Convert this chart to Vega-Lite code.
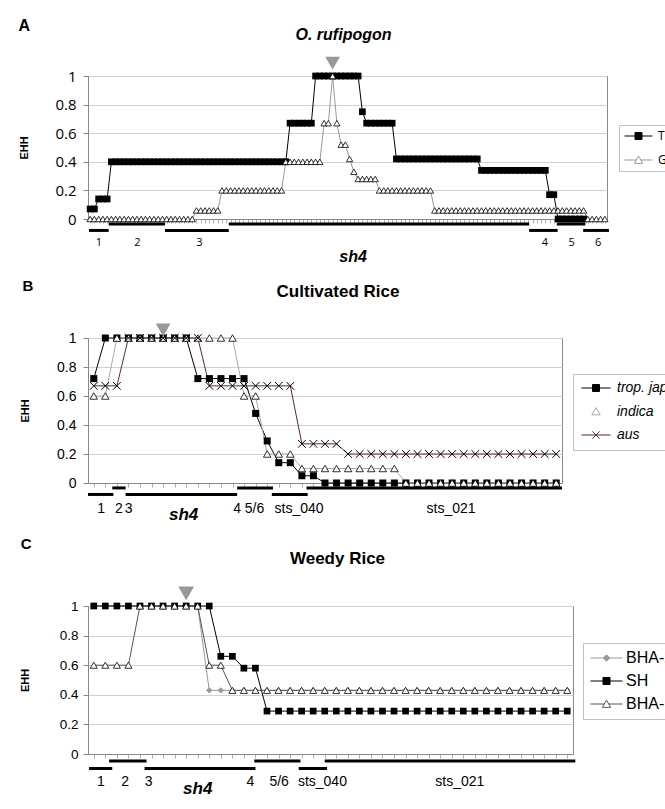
{
"$schema": "https://vega.github.io/schema/vega-lite/v6.json",
"background": "white",
"padding": {"left": 18, "top": 18, "right": 0, "bottom": 0},
"spacing": 13,
"columns": 1,
"resolve": {"scale": {"stroke": "independent"}, "legend": {"stroke": "independent"}},
"config": {
  "font": "Liberation Sans",
  "view": {"stroke": "#888888", "strokeWidth": 1},
  "axis": {"domainColor": "#888888", "tickColor": "#888888", "gridColor": "#d0d0d0", "labelColor": "#000000", "titleColor": "#000000", "labelOverlap": false},
  "title": {"color": "#000000", "font": "Liberation Sans"}
},
"datasets": {
  "A": [
    {"pos":1,"T":0.07,"G":0},{"pos":2,"T":0.07,"G":0},{"pos":3,"T":0.14,"G":0},{"pos":4,"T":0.14,"G":0},{"pos":5,"T":0.14,"G":0},
    {"pos":6,"T":0.4,"G":0},{"pos":7,"T":0.4,"G":0},{"pos":8,"T":0.4,"G":0},{"pos":9,"T":0.4,"G":0},{"pos":10,"T":0.4,"G":0},
    {"pos":11,"T":0.4,"G":0},{"pos":12,"T":0.4,"G":0},{"pos":13,"T":0.4,"G":0},{"pos":14,"T":0.4,"G":0},{"pos":15,"T":0.4,"G":0},
    {"pos":16,"T":0.4,"G":0},{"pos":17,"T":0.4,"G":0},{"pos":18,"T":0.4,"G":0},{"pos":19,"T":0.4,"G":0},{"pos":20,"T":0.4,"G":0},
    {"pos":21,"T":0.4,"G":0},{"pos":22,"T":0.4,"G":0},{"pos":23,"T":0.4,"G":0},{"pos":24,"T":0.4,"G":0},{"pos":25,"T":0.4,"G":0},
    {"pos":26,"T":0.4,"G":0.06},{"pos":27,"T":0.4,"G":0.06},{"pos":28,"T":0.4,"G":0.06},{"pos":29,"T":0.4,"G":0.06},{"pos":30,"T":0.4,"G":0.06},{"pos":31,"T":0.4,"G":0.06},
    {"pos":32,"T":0.4,"G":0.2},{"pos":33,"T":0.4,"G":0.2},{"pos":34,"T":0.4,"G":0.2},{"pos":35,"T":0.4,"G":0.2},{"pos":36,"T":0.4,"G":0.2},
    {"pos":37,"T":0.4,"G":0.2},{"pos":38,"T":0.4,"G":0.2},{"pos":39,"T":0.4,"G":0.2},{"pos":40,"T":0.4,"G":0.2},{"pos":41,"T":0.4,"G":0.2},
    {"pos":42,"T":0.4,"G":0.2},{"pos":43,"T":0.4,"G":0.2},{"pos":44,"T":0.4,"G":0.2},{"pos":45,"T":0.4,"G":0.2},{"pos":46,"T":0.4,"G":0.2},
    {"pos":47,"T":0.4,"G":0.4},
    {"pos":48,"T":0.67,"G":0.4},{"pos":49,"T":0.67,"G":0.4},{"pos":50,"T":0.67,"G":0.4},{"pos":51,"T":0.67,"G":0.4},{"pos":52,"T":0.67,"G":0.4},{"pos":53,"T":0.67,"G":0.4},
    {"pos":54,"T":1,"G":0.4},{"pos":55,"T":1,"G":0.4},{"pos":56,"T":1,"G":0.67},{"pos":57,"T":1,"G":0.67},{"pos":58,"T":1,"G":1},
    {"pos":59,"T":1,"G":0.67},{"pos":60,"T":1,"G":0.52},{"pos":61,"T":1,"G":0.52},{"pos":62,"T":1,"G":0.42},{"pos":63,"T":1,"G":0.33},
    {"pos":64,"T":1,"G":0.28},{"pos":65,"T":0.75,"G":0.28},{"pos":66,"T":0.67,"G":0.28},{"pos":67,"T":0.67,"G":0.28},{"pos":68,"T":0.67,"G":0.28},
    {"pos":69,"T":0.67,"G":0.2},{"pos":70,"T":0.67,"G":0.2},{"pos":71,"T":0.67,"G":0.2},{"pos":72,"T":0.67,"G":0.2},
    {"pos":73,"T":0.42,"G":0.2},{"pos":74,"T":0.42,"G":0.2},{"pos":75,"T":0.42,"G":0.2},{"pos":76,"T":0.42,"G":0.2},{"pos":77,"T":0.42,"G":0.2},
    {"pos":78,"T":0.42,"G":0.2},{"pos":79,"T":0.42,"G":0.2},{"pos":80,"T":0.42,"G":0.2},{"pos":81,"T":0.42,"G":0.2},
    {"pos":82,"T":0.42,"G":0.06},{"pos":83,"T":0.42,"G":0.06},{"pos":84,"T":0.42,"G":0.06},{"pos":85,"T":0.42,"G":0.06},{"pos":86,"T":0.42,"G":0.06},
    {"pos":87,"T":0.42,"G":0.06},{"pos":88,"T":0.42,"G":0.06},{"pos":89,"T":0.42,"G":0.06},{"pos":90,"T":0.42,"G":0.06},{"pos":91,"T":0.42,"G":0.06},{"pos":92,"T":0.42,"G":0.06},
    {"pos":93,"T":0.34,"G":0.06},{"pos":94,"T":0.34,"G":0.06},{"pos":95,"T":0.34,"G":0.06},{"pos":96,"T":0.34,"G":0.06},{"pos":97,"T":0.34,"G":0.06},
    {"pos":98,"T":0.34,"G":0.06},{"pos":99,"T":0.34,"G":0.06},{"pos":100,"T":0.34,"G":0.06},{"pos":101,"T":0.34,"G":0.06},{"pos":102,"T":0.34,"G":0.06},
    {"pos":103,"T":0.34,"G":0.06},{"pos":104,"T":0.34,"G":0.06},{"pos":105,"T":0.34,"G":0.06},{"pos":106,"T":0.34,"G":0.06},{"pos":107,"T":0.34,"G":0.06},{"pos":108,"T":0.34,"G":0.06},
    {"pos":109,"T":0.17,"G":0.06},{"pos":110,"T":0.17,"G":0.06},
    {"pos":111,"T":0,"G":0.06},{"pos":112,"T":0,"G":0.06},{"pos":113,"T":0,"G":0.06},{"pos":114,"T":0,"G":0.06},{"pos":115,"T":0,"G":0.06},{"pos":116,"T":0,"G":0.06},{"pos":117,"T":0,"G":0.06},
    {"pos":118,"G":0},{"pos":119,"G":0},{"pos":120,"G":0},{"pos":121,"G":0},{"pos":122,"G":0}
  ],
  "B": [
    {"pos":1,"tj":0.72,"ind":0.6,"aus":0.67},{"pos":2,"tj":1,"ind":0.6,"aus":0.67},{"pos":3,"tj":1,"ind":1,"aus":0.67},
    {"pos":4,"tj":1,"ind":1,"aus":1},{"pos":5,"tj":1,"ind":1,"aus":1},{"pos":6,"tj":1,"ind":1,"aus":1},{"pos":7,"tj":1,"ind":1,"aus":1},
    {"pos":8,"tj":1,"ind":1,"aus":1},{"pos":9,"tj":1,"ind":1,"aus":1},{"pos":10,"tj":0.72,"ind":1,"aus":1},
    {"pos":11,"tj":0.72,"ind":1,"aus":0.67},{"pos":12,"tj":0.72,"ind":1,"aus":0.67},{"pos":13,"tj":0.72,"ind":1,"aus":0.67},
    {"pos":14,"tj":0.72,"ind":0.6,"aus":0.67},{"pos":15,"tj":0.48,"ind":0.6,"aus":0.67},{"pos":16,"tj":0.29,"ind":0.2,"aus":0.67},
    {"pos":17,"tj":0.14,"ind":0.2,"aus":0.67},{"pos":18,"tj":0.14,"ind":0.2,"aus":0.67},{"pos":19,"tj":0.05,"ind":0.1,"aus":0.27},
    {"pos":20,"tj":0.05,"ind":0.1,"aus":0.27},{"pos":21,"tj":0,"ind":0.1,"aus":0.27},{"pos":22,"tj":0,"ind":0.1,"aus":0.27},
    {"pos":23,"tj":0,"ind":0.1,"aus":0.2},{"pos":24,"tj":0,"ind":0.1,"aus":0.2},{"pos":25,"tj":0,"ind":0.1,"aus":0.2},
    {"pos":26,"tj":0,"ind":0.1,"aus":0.2},{"pos":27,"tj":0,"ind":0.1,"aus":0.2},{"pos":28,"tj":0,"ind":0,"aus":0.2},
    {"pos":29,"tj":0,"ind":0,"aus":0.2},{"pos":30,"tj":0,"ind":0,"aus":0.2},{"pos":31,"tj":0,"ind":0,"aus":0.2},
    {"pos":32,"tj":0,"ind":0,"aus":0.2},{"pos":33,"tj":0,"ind":0,"aus":0.2},{"pos":34,"tj":0,"ind":0,"aus":0.2},
    {"pos":35,"tj":0,"ind":0,"aus":0.2},{"pos":36,"tj":0,"ind":0,"aus":0.2},{"pos":37,"tj":0,"ind":0,"aus":0.2},
    {"pos":38,"tj":0,"ind":0,"aus":0.2},{"pos":39,"tj":0,"ind":0,"aus":0.2},{"pos":40,"tj":0,"ind":0,"aus":0.2},{"pos":41,"tj":0,"ind":0,"aus":0.2}
  ],
  "C": [
    {"pos":1,"bha2":1,"sh":1,"bha1":0.6},{"pos":2,"bha2":1,"sh":1,"bha1":0.6},{"pos":3,"bha2":1,"sh":1,"bha1":0.6},{"pos":4,"bha2":1,"sh":1,"bha1":0.6},
    {"pos":5,"bha2":1,"sh":1,"bha1":1},{"pos":6,"bha2":1,"sh":1,"bha1":1},{"pos":7,"bha2":1,"sh":1,"bha1":1},{"pos":8,"bha2":1,"sh":1,"bha1":1},
    {"pos":9,"bha2":1,"sh":1,"bha1":1},{"pos":10,"bha2":1,"sh":1,"bha1":1},{"pos":11,"bha2":0.43,"sh":1,"bha1":0.6},
    {"pos":12,"bha2":0.43,"sh":0.66,"bha1":0.6},{"pos":13,"bha2":0.43,"sh":0.66,"bha1":0.43},{"pos":14,"bha2":0.43,"sh":0.58,"bha1":0.43},
    {"pos":15,"bha2":0.43,"sh":0.58,"bha1":0.43},{"pos":16,"bha2":0.43,"sh":0.29,"bha1":0.43},{"pos":17,"bha2":0.43,"sh":0.29,"bha1":0.43},
    {"pos":18,"bha2":0.43,"sh":0.29,"bha1":0.43},{"pos":19,"bha2":0.43,"sh":0.29,"bha1":0.43},{"pos":20,"bha2":0.43,"sh":0.29,"bha1":0.43},
    {"pos":21,"bha2":0.43,"sh":0.29,"bha1":0.43},{"pos":22,"bha2":0.43,"sh":0.29,"bha1":0.43},{"pos":23,"bha2":0.43,"sh":0.29,"bha1":0.43},
    {"pos":24,"bha2":0.43,"sh":0.29,"bha1":0.43},{"pos":25,"bha2":0.43,"sh":0.29,"bha1":0.43},{"pos":26,"bha2":0.43,"sh":0.29,"bha1":0.43},
    {"pos":27,"bha2":0.43,"sh":0.29,"bha1":0.43},{"pos":28,"bha2":0.43,"sh":0.29,"bha1":0.43},{"pos":29,"bha2":0.43,"sh":0.29,"bha1":0.43},
    {"pos":30,"bha2":0.43,"sh":0.29,"bha1":0.43},{"pos":31,"bha2":0.43,"sh":0.29,"bha1":0.43},{"pos":32,"bha2":0.43,"sh":0.29,"bha1":0.43},
    {"pos":33,"bha2":0.43,"sh":0.29,"bha1":0.43},{"pos":34,"bha2":0.43,"sh":0.29,"bha1":0.43},{"pos":35,"bha2":0.43,"sh":0.29,"bha1":0.43},
    {"pos":36,"bha2":0.43,"sh":0.29,"bha1":0.43},{"pos":37,"bha2":0.43,"sh":0.29,"bha1":0.43},{"pos":38,"bha2":0.43,"sh":0.29,"bha1":0.43},
    {"pos":39,"bha2":0.43,"sh":0.29,"bha1":0.43},{"pos":40,"bha2":0.43,"sh":0.29,"bha1":0.43},{"pos":41,"bha2":0.43,"sh":0.29,"bha1":0.43},
    {"pos":42,"bha2":0.43,"sh":0.29,"bha1":0.43}
  ],
  "segA": [
    {"seg":"1","pos":0.73,"pos2":5.36,"lane":"low"},{"seg":"2","pos":5.36,"pos2":18.6,"lane":"high"},
    {"seg":"3","pos":18.6,"pos2":33.6,"lane":"low"},{"seg":"sh4","pos":33.6,"pos2":104.2,"lane":"high"},
    {"seg":"4","pos":104.2,"pos2":110.9,"lane":"low"},{"seg":"5","pos":110.7,"pos2":117.4,"lane":"high"},
    {"seg":"6","pos":116.9,"pos2":122.95,"lane":"low"}
  ],
  "labA": [
    {"label":"1","pos":3.05,"kind":"exon"},{"label":"2","pos":12.1,"kind":"exon"},{"label":"3","pos":26.7,"kind":"exon"},
    {"label":"4","pos":107.9,"kind":"exon"},{"label":"5","pos":114.2,"kind":"exon"},{"label":"6","pos":120.4,"kind":"exon"},
    {"label":"sh4","pos":62.8,"kind":"gene"}
  ],
  "segB": [
    {"seg":"1","pos":0.5,"pos2":2.7,"lane":"low"},{"seg":"2","pos":2.6,"pos2":3.75,"lane":"high"},
    {"seg":"3-4","pos":3.75,"pos2":13.4,"lane":"low"},{"seg":"5/6","pos":13.4,"pos2":16.5,"lane":"high"},
    {"seg":"sts_040","pos":16.4,"pos2":19.5,"lane":"low"},{"seg":"sts_021","pos":19.4,"pos2":41.5,"lane":"high"}
  ],
  "labB": [
    {"label":"1","pos":1.64,"kind":"exon"},{"label":"2","pos":3.17,"kind":"exon"},{"label":"3","pos":4.02,"kind":"exon"},
    {"label":"4","pos":13.4,"kind":"exon"},{"label":"5/6","pos":14.9,"kind":"exon"},{"label":"sts_040","pos":18.76,"kind":"exon"},
    {"label":"sts_021","pos":31.9,"kind":"exon"},{"label":"sh4","pos":8.77,"kind":"gene"}
  ],
  "segC": [
    {"seg":"1","pos":0.59,"pos2":2.6,"lane":"low"},{"seg":"2","pos":2.33,"pos2":5.57,"lane":"high"},
    {"seg":"3-4","pos":5.4,"pos2":15,"lane":"low"},{"seg":"5/6","pos":14.9,"pos2":18.9,"lane":"high"},
    {"seg":"sts_040","pos":18.75,"pos2":21.2,"lane":"low"},{"seg":"sts_021","pos":21,"pos2":42.7,"lane":"high"}
  ],
  "labC": [
    {"label":"1","pos":1.61,"kind":"exon"},{"label":"2","pos":3.71,"kind":"exon"},{"label":"3","pos":5.75,"kind":"exon"},
    {"label":"4","pos":14.56,"kind":"exon"},{"label":"5/6","pos":17.05,"kind":"exon"},{"label":"sts_040","pos":20.8,"kind":"exon"},
    {"label":"sts_021","pos":32.7,"kind":"exon"},{"label":"sh4","pos":10,"kind":"gene"}
  ],
  "snpA": [{"pos":58}],
  "snpB": [{"pos":7}],
  "snpC": [{"pos":9}]
},
"concat": [
 {
  "title": {"text": "A", "anchor": "start", "fontSize": 16, "fontWeight": "bold", "offset": -8},
  "vconcat": [{
   "width": 519, "height": 143,
   "title": {"text": "O. rufipogon", "fontStyle": "italic", "fontWeight": "bold", "fontSize": 16, "offset": 14, "dx": -4},
   "resolve": {"scale": {"y": "independent"}, "axis": {"y": "independent"}},
   "encoding": {
     "x": {"field": "pos", "type": "quantitative", "scale": {"domain": [0.5, 122.5], "nice": false, "zero": false},
           "axis": {"labels": false, "title": null, "grid": false, "tickCount": 122, "tickSize": 4, "tickColor": "#b0b0b0"}}
   },
   "layer": [
    {"data": {"name": "A"}, "transform": [{"fold": ["T", "G"], "as": ["series", "ehh"]}],
     "encoding": {
       "y": {"field": "ehh", "type": "quantitative", "scale": {"domain": [0, 1], "nice": false},
             "axis": {"title": "EHH", "values": [0, 0.2, 0.4, 0.6, 0.8, 1], "format": "~g", "grid": true, "tickSize": 5, "labelPadding": 7, "labelOverlap": false,
                      "labelFont": "Open Sans", "labelFontSize": 15, "titleFontSize": 11, "titleFontWeight": "bold", "titlePadding": 25}}
     },
     "layer": [
      {"mark": {"type": "line", "strokeWidth": 1},
       "encoding": {"stroke": {"field": "series", "type": "nominal", "scale": {"domain": ["T", "G"], "range": ["#000000", "#999999"]},
         "legend": {"orient": "none", "legendX": 531, "legendY": 49, "title": null, "strokeColor": "#c0c0c0", "fillColor": "#ffffff",
                    "padding": 5, "symbolSize": 784, "clipHeight": 12, "rowPadding": 12, "labelOffset": 5, "symbolStrokeWidth": 1,
                    "labelFont": "Open Sans", "labelFontSize": 12, "labelColor": "#000000",
                    "encode": {"symbols": {"update": {
                      "shape": {"signal": "datum.value === 'T' ? 'M-1,0H1M-0.25,-0.25H0.25V0.25H-0.25Z' : 'M-1,0H-0.16M0.16,0H1M0,-0.28L0.3,0.24L-0.3,0.24Z'"},
                      "fill": {"signal": "datum.value === 'T' ? '#000000' : '#ffffff'"},
                      "opacity": {"value": 1}}}}}}}},
      {"transform": [{"filter": "datum.series === 'T'"}], "mark": {"type": "square", "size": 45, "color": "#000000", "opacity": 1}},
      {"transform": [{"filter": "datum.series === 'G'"}], "mark": {"type": "point", "shape": "triangle-up", "filled": true, "fill": "#ffffff", "stroke": "#000000", "strokeWidth": 0.8, "size": 40, "opacity": 1}}
     ]},
    {"data": {"name": "segA"}, "transform": [{"filter": "datum.lane === 'high'"}], "mark": {"type": "rule", "strokeWidth": 3, "color": "#000000"},
     "encoding": {"x2": {"field": "pos2"}, "y": {"datum": -0.035, "scale": {"domain": [0, 1], "nice": false}, "axis": null}}},
    {"data": {"name": "segA"}, "transform": [{"filter": "datum.lane === 'low'"}], "mark": {"type": "rule", "strokeWidth": 3, "color": "#000000"},
     "encoding": {"x2": {"field": "pos2"}, "y": {"datum": -0.08, "scale": {"domain": [0, 1], "nice": false}, "axis": null}}},
    {"data": {"name": "labA"}, "transform": [{"filter": "datum.kind === 'exon'"}], "mark": {"type": "text", "font": "Open Sans", "fontSize": 11, "baseline": "middle", "fill": "#000000"},
     "encoding": {"text": {"field": "label"}, "y": {"datum": -0.168, "scale": {"domain": [0, 1], "nice": false}, "axis": null}}},
    {"data": {"name": "labA"}, "transform": [{"filter": "datum.kind === 'gene'"}], "mark": {"type": "text", "fontSize": 16, "fontWeight": "bold", "fontStyle": "italic", "baseline": "middle", "fill": "#000000"},
     "encoding": {"text": {"field": "label"}, "y": {"datum": -0.266, "scale": {"domain": [0, 1], "nice": false}, "axis": null}}},
    {"data": {"name": "snpA"}, "mark": {"type": "point", "shape": "triangle-down", "filled": true, "color": "#999999", "size": 220, "opacity": 1},
     "encoding": {"y": {"datum": 1.09, "scale": {"domain": [0, 1], "nice": false}, "axis": null}}}
   ]
  }]
 },
 {
  "title": {"text": "B", "anchor": "start", "fontSize": 15, "fontWeight": "bold", "offset": -12, "dx": 4},
  "vconcat": [{
   "width": 474, "height": 145,
   "title": {"text": "Cultivated Rice", "fontWeight": "bold", "fontSize": 17, "offset": 23, "dx": 13},
   "resolve": {"scale": {"y": "independent"}, "axis": {"y": "independent"}},
   "encoding": {
     "x": {"field": "pos", "type": "quantitative", "scale": {"domain": [0.5, 41.5], "nice": false, "zero": false},
           "axis": {"labels": false, "title": null, "grid": false, "tickCount": 41, "tickSize": 4, "tickColor": "#b0b0b0"}}
   },
   "layer": [
    {"data": {"name": "B"}, "transform": [{"fold": ["tj", "ind", "aus"], "as": ["series", "ehh"]}],
     "encoding": {
       "y": {"field": "ehh", "type": "quantitative", "scale": {"domain": [0, 1], "nice": false},
             "axis": {"title": "EHH", "values": [0, 0.2, 0.4, 0.6, 0.8, 1], "format": "~g", "grid": true, "tickSize": 5, "labelPadding": 7, "labelOverlap": false,
                      "labelFontSize": 14, "titleFontSize": 11, "titleFontWeight": "bold", "titlePadding": 26.5}}
     },
     "layer": [
      {"mark": {"type": "line", "strokeWidth": 1},
       "encoding": {"stroke": {"field": "series", "type": "nominal", "scale": {"domain": ["tj", "ind", "aus"], "range": ["#000000", "#aaaaaa", "#5b2b2b"]},
         "legend": {"orient": "none", "legendX": 485, "legendY": 36, "title": null, "strokeColor": "#c0c0c0", "fillColor": "#ffffff",
                    "padding": 8, "symbolSize": 841, "clipHeight": 12, "rowPadding": 9.5, "labelOffset": 6, "symbolStrokeWidth": 1,
                    "labelFontSize": 14, "labelFontStyle": "italic", "labelColor": "#000000",
                    "labelExpr": "datum.value === 'tj' ? 'trop. japonica' : datum.value === 'ind' ? 'indica' : 'aus'",
                    "encode": {"symbols": {"update": {
                      "shape": {"signal": "datum.value === 'tj' ? 'M-1,0H1M-0.24,-0.24H0.24V0.24H-0.24Z' : datum.value === 'ind' ? 'M0,-0.27L0.29,0.23L-0.29,0.23Z' : 'M-1,0H1M-0.25,-0.25L0.25,0.25M-0.25,0.25L0.25,-0.25'"},
                      "fill": {"signal": "datum.value === 'tj' ? '#000000' : datum.value === 'ind' ? '#ffffff' : 'transparent'"},
                      "opacity": {"value": 1}}}}}}}},
      {"transform": [{"filter": "datum.series === 'tj'"}], "mark": {"type": "square", "size": 49, "color": "#000000", "opacity": 1}},
      {"transform": [{"filter": "datum.series === 'ind'"}], "mark": {"type": "point", "shape": "triangle-up", "filled": true, "fill": "#ffffff", "stroke": "#000000", "strokeWidth": 0.8, "size": 56, "opacity": 1}},
      {"transform": [{"filter": "datum.series === 'aus'"}], "mark": {"type": "point", "shape": "M-1,-1L1,1M-1,1L1,-1", "filled": false, "stroke": "#000000", "strokeWidth": 1, "size": 60, "opacity": 1}}
     ]},
    {"data": {"name": "segB"}, "transform": [{"filter": "datum.lane === 'high'"}], "mark": {"type": "rule", "strokeWidth": 3, "color": "#000000"},
     "encoding": {"x2": {"field": "pos2"}, "y": {"datum": -0.034, "scale": {"domain": [0, 1], "nice": false}, "axis": null}}},
    {"data": {"name": "segB"}, "transform": [{"filter": "datum.lane === 'low'"}], "mark": {"type": "rule", "strokeWidth": 3, "color": "#000000"},
     "encoding": {"x2": {"field": "pos2"}, "y": {"datum": -0.079, "scale": {"domain": [0, 1], "nice": false}, "axis": null}}},
    {"data": {"name": "labB"}, "transform": [{"filter": "datum.kind === 'exon'"}], "mark": {"type": "text", "fontSize": 14, "baseline": "middle", "fill": "#000000"},
     "encoding": {"text": {"field": "label"}, "y": {"datum": -0.177, "scale": {"domain": [0, 1], "nice": false}, "axis": null}}},
    {"data": {"name": "labB"}, "transform": [{"filter": "datum.kind === 'gene'"}], "mark": {"type": "text", "fontSize": 17, "fontWeight": "bold", "fontStyle": "italic", "baseline": "middle", "fill": "#000000"},
     "encoding": {"text": {"field": "label"}, "y": {"datum": -0.223, "scale": {"domain": [0, 1], "nice": false}, "axis": null}}},
    {"data": {"name": "snpB"}, "mark": {"type": "point", "shape": "triangle-down", "filled": true, "color": "#999999", "size": 220, "opacity": 1},
     "encoding": {"y": {"datum": 1.055, "scale": {"domain": [0, 1], "nice": false}, "axis": null}}}
   ]
  }]
 },
 {
  "title": {"text": "C", "anchor": "start", "fontSize": 15, "fontWeight": "bold", "offset": -3, "dx": 2},
  "vconcat": [{
   "width": 485, "height": 148,
   "title": {"text": "Weedy Rice", "fontWeight": "bold", "fontSize": 17, "offset": 19, "dx": 7},
   "resolve": {"scale": {"y": "independent"}, "axis": {"y": "independent"}},
   "encoding": {
     "x": {"field": "pos", "type": "quantitative", "scale": {"domain": [0.5, 42.5], "nice": false, "zero": false},
           "axis": {"labels": false, "title": null, "grid": false, "tickCount": 42, "tickSize": 4, "tickColor": "#b0b0b0"}}
   },
   "layer": [
    {"data": {"name": "C"}, "transform": [{"fold": ["bha2", "sh", "bha1"], "as": ["series", "ehh"]}],
     "encoding": {
       "y": {"field": "ehh", "type": "quantitative", "scale": {"domain": [0, 1], "nice": false},
             "axis": {"title": "EHH", "values": [0, 0.2, 0.4, 0.6, 0.8, 1], "format": "~g", "grid": true, "tickSize": 5, "labelPadding": 5, "labelOverlap": false,
                      "labelFontSize": 13.5, "titleFontSize": 11, "titleFontWeight": "bold", "titlePadding": 29}}
     },
     "layer": [
      {"mark": {"type": "line", "strokeWidth": 1},
       "encoding": {"stroke": {"field": "series", "type": "nominal", "scale": {"domain": ["bha2", "sh", "bha1"], "range": ["#999999", "#000000", "#555555"]},
         "legend": {"orient": "none", "legendX": 495, "legendY": 37, "title": null, "strokeColor": "#c0c0c0", "fillColor": "#ffffff",
                    "padding": 7, "symbolSize": 1024, "clipHeight": 16, "rowPadding": 7, "labelOffset": 3, "symbolStrokeWidth": 1,
                    "labelFontSize": 16, "labelColor": "#000000",
                    "labelExpr": "datum.value === 'bha2' ? 'BHA-2' : datum.value === 'sh' ? 'SH' : 'BHA-1'",
                    "encode": {"symbols": {"update": {
                      "shape": {"signal": "datum.value === 'bha2' ? 'M-1,0H1M0,-0.2L0.2,0L0,0.2L-0.2,0Z' : datum.value === 'sh' ? 'M-1,0H1M-0.22,-0.22H0.22V0.22H-0.22Z' : 'M-1,0H-0.14M0.14,0H1M0,-0.24L0.26,0.21L-0.26,0.21Z'"},
                      "fill": {"signal": "datum.value === 'bha2' ? '#999999' : datum.value === 'sh' ? '#000000' : '#ffffff'"},
                      "opacity": {"value": 1}}}}}}}},
      {"transform": [{"filter": "datum.series === 'bha2'"}], "mark": {"type": "point", "shape": "diamond", "filled": true, "color": "#999999", "size": 40, "opacity": 1}},
      {"transform": [{"filter": "datum.series === 'sh'"}], "mark": {"type": "square", "size": 45, "color": "#000000", "opacity": 1}},
      {"transform": [{"filter": "datum.series === 'bha1'"}], "mark": {"type": "point", "shape": "triangle-up", "filled": true, "fill": "#ffffff", "stroke": "#000000", "strokeWidth": 0.8, "size": 50, "opacity": 1}}
     ]},
    {"data": {"name": "segC"}, "transform": [{"filter": "datum.lane === 'high'"}], "mark": {"type": "rule", "strokeWidth": 3, "color": "#000000"},
     "encoding": {"x2": {"field": "pos2"}, "y": {"datum": -0.047, "scale": {"domain": [0, 1], "nice": false}, "axis": null}}},
    {"data": {"name": "segC"}, "transform": [{"filter": "datum.lane === 'low'"}], "mark": {"type": "rule", "strokeWidth": 3, "color": "#000000"},
     "encoding": {"x2": {"field": "pos2"}, "y": {"datum": -0.098, "scale": {"domain": [0, 1], "nice": false}, "axis": null}}},
    {"data": {"name": "labC"}, "transform": [{"filter": "datum.kind === 'exon'"}], "mark": {"type": "text", "fontSize": 14, "baseline": "middle", "fill": "#000000"},
     "encoding": {"text": {"field": "label"}, "y": {"datum": -0.189, "scale": {"domain": [0, 1], "nice": false}, "axis": null}}},
    {"data": {"name": "labC"}, "transform": [{"filter": "datum.kind === 'gene'"}], "mark": {"type": "text", "fontSize": 17, "fontWeight": "bold", "fontStyle": "italic", "baseline": "middle", "fill": "#000000"},
     "encoding": {"text": {"field": "label"}, "y": {"datum": -0.236, "scale": {"domain": [0, 1], "nice": false}, "axis": null}}},
    {"data": {"name": "snpC"}, "mark": {"type": "point", "shape": "triangle-down", "filled": true, "color": "#999999", "size": 250, "opacity": 1},
     "encoding": {"y": {"datum": 1.085, "scale": {"domain": [0, 1], "nice": false}, "axis": null}}}
   ]
  }]
 }
]
}
